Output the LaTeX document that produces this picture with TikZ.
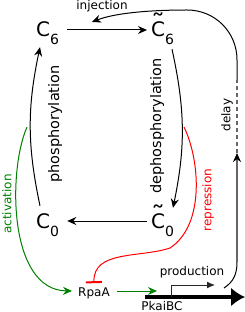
\documentclass[tikz,border=0pt]{standalone}
\usepackage{fontspec}
\setmainfont{DejaVu Sans}
\usetikzlibrary{arrows.meta}
\newcommand\Csub[1]{\raisebox{-8pt}{\fontsize{14}{16}\selectfont #1}}
\newcommand\Ctil{\ooalign{C\cr\hidewidth\raisebox{5pt}{\scalebox{1.4}[1.2]{\char"02DC}}\hidewidth\cr}}
\definecolor{actgreen}{RGB}{0,128,0}
\begin{document}
\begin{tikzpicture}[x=1pt,y=-1pt,
  arr/.style={line width=1pt,-{Stealth[length=9pt,width=8pt]}},
  garr/.style={actgreen, line width=1pt, -{Stealth[length=9pt,width=8pt]}},
  bigC/.style={font=\fontsize{20}{24}\selectfont, inner sep=0pt, text height=19pt, text depth=5pt, anchor=base west},
  lab/.style={font=\fontsize{12}{14}\selectfont, inner sep=0pt},
  biglab/.style={font=\fontsize{14.5}{16}\selectfont, inner sep=0pt},
]
\useasboundingbox (0,0) rectangle (245,312);
% species
\node[bigC] (C6) at (36,37) {C\Csub{6}};
\node[bigC] (C6t) at (151,37) {\Ctil\Csub{6}};
\node[bigC] (C0) at (36,228) {C\Csub{0}};
\node[bigC] (C0t) at (151,228) {\Ctil\Csub{0}};
% labels
\node[biglab, rotate=90] (phos) at (55,124) {phosphorylation};
\node[biglab, rotate=90] (dephos) at (157,126) {dephosphorylation};
\node[lab] (inj) at (102,6) {injection};
\node[lab, rotate=90] (delay) at (227,115) {delay};
\node[lab, rotate=90, text=actgreen] (act) at (7,204) {activation};
\node[lab, rotate=90, text=red] (rep) at (208,200) {repression};
\node[lab] (prod) at (192,272) {production};
\node[lab] (rpaa) at (94,293) {RpaA};
\node[lab] (pkai) at (162,306) {PkaiBC};
% cycle
\draw[arr] ([xshift=8pt]C6.east) -- ([xshift=-4pt]C6t.west);
\draw[arr] ([xshift=-4pt]C0t.west) -- ([xshift=8pt]C0.east);
\draw[arr] ([xshift=4pt,yshift=3pt]C0.north west) to[bend left=12] ([xshift=4pt,yshift=-5pt]C6.south west);
\draw[arr] ([xshift=21pt,yshift=-7pt]C6t.south west) to[bend left=12] ([xshift=22pt,yshift=1pt]C0t.north west);
% coordinates
\coordinate (actstart) at (27,127);
\coordinate (repstart) at (184,127);
\coordinate (gtip) at (157,291);
\coordinate (ts) at (145,297);
\coordinate (te) at (245,297);
\coordinate (pb) at (171,297);
\coordinate (prodtip) at (215,285);
\coordinate (d0) at (224,288);
\coordinate (d1) at (237,262);
\coordinate (d2) at (237,153);
\coordinate (d3) at (237,80);
\coordinate (d4) at (237,60);
\coordinate (injtip) at (92,22);
% activation / repression
\draw[garr] (actstart) .. controls (8,170) and (8,290) .. ([xshift=-6pt,yshift=2pt]rpaa.west);
\draw[garr] ([xshift=7pt,yshift=2pt]rpaa.east) -- (gtip);
\draw[red, line width=1pt, -{Bar[width=16pt,line width=2pt]}] (repstart) .. controls (200,160) and (205,225) .. (170,248) .. controls (140,258) and (93,250) .. ([yshift=4pt]rpaa.north);
% gene
\draw[line width=4pt, -{Latex[length=14pt,width=19pt]}] (ts) -- (te);
\draw[line width=1pt, black!85, -{Latex[length=8pt,width=7pt]}] (pb) |- (prodtip);
% delay and injection
\draw[line width=1pt] (d0) .. controls (233,282) and (237,275) .. (d1);
\draw[line width=1.6pt, black!60, -{Stealth[length=9pt,width=8pt,black]}] (d1) -- (d2);
\draw[line width=1.6pt, black!60, dash pattern=on 4pt off 3pt] (d2) -- (d3);
\draw[arr] (d3) -- (d4) .. controls (237,32) and (215,10) .. (187,10) .. controls (150,10) and (115,13) .. (injtip);
\end{tikzpicture}
\end{document}
